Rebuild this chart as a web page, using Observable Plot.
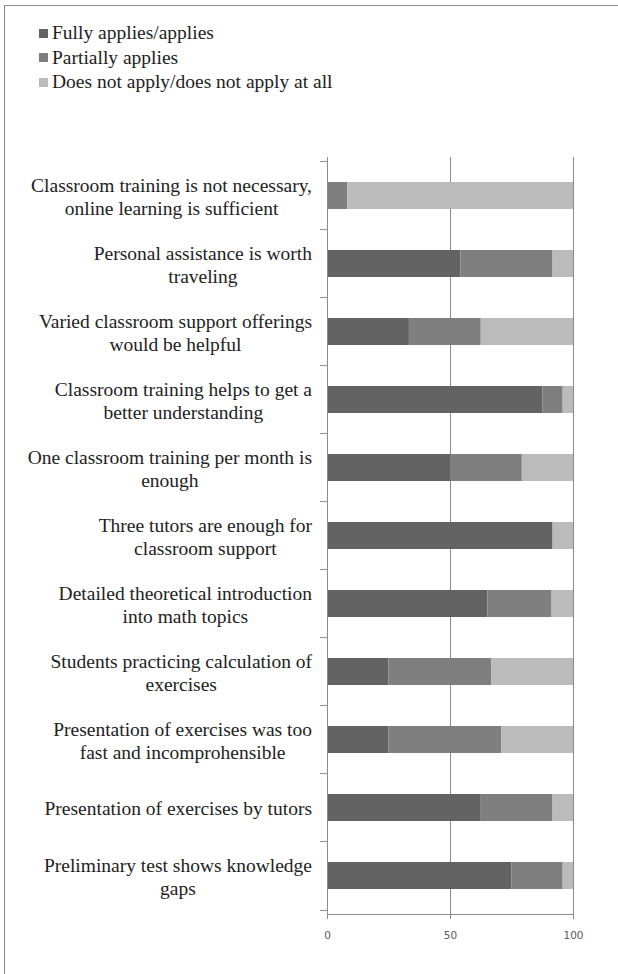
<!DOCTYPE html>
<html><head><meta charset="utf-8">
<script src="https://cdn.jsdelivr.net/npm/d3@7"></script>
<script src="https://cdn.jsdelivr.net/npm/@observablehq/plot@0.6"></script>
<style>
body{margin:0;background:#fff;}
#wrap{position:relative;width:618px;height:974px;overflow:hidden;background:#fff;}
#frame{position:absolute;left:4px;top:5px;width:700px;height:1100px;border-top:1px solid #8a8a8a;border-left:1px solid #8a8a8a;}
#legend{position:absolute;left:39px;top:20.75px;font-family:"Liberation Serif";font-size:19.5px;color:#222;}
.item{display:flex;align-items:center;height:24.5px;white-space:nowrap;}
.sw{width:9px;height:9px;margin-right:4px;flex:none;}
#chart{position:absolute;left:0;top:0;}
</style></head>
<body>
<div id="wrap"><div id="frame"></div><div id="legend"></div><div id="chart"></div></div>
<script>
const categories = [
  "Classroom training is not necessary,\nonline learning is sufficient",
  "Personal assistance is worth\ntraveling",
  "Varied classroom support offerings\nwould be helpful",
  "Classroom training helps to get a\nbetter understanding",
  "One classroom training per month is\nenough",
  "Three tutors are enough for\nclassroom support",
  "Detailed theoretical introduction\ninto math topics",
  "Students practicing calculation of\nexercises",
  "Presentation of exercises was too\nfast and incomprohensible",
  "Presentation of exercises by tutors",
  "Preliminary test shows knowledge\ngaps"
];
const seriesNames = ["Fully applies/applies", "Partially applies", "Does not apply/does not apply at all"];
const fully     = [0,    54.2, 33.3, 87.5, 50,   91.7, 65.2, 25,   25,   62.5, 75];
const partially = [8.3,  37.5, 29.2, 8.3,  29.2, 0,    26.1, 41.7, 45.8, 29.2, 20.8];
const notApply  = [91.7, 8.3,  37.5, 4.2,  20.8, 8.3,  8.7,  33.3, 29.2, 8.3,  4.2];
const seriesColors = ["#636363", "#7f7f7f", "#bbbbbb"];
const xTicks = [0, 50, 100];
const gridTicks = [50, 100];

const seriesValues = [fully, partially, notApply];
const rows = [];
categories.forEach((c, i) => {
  seriesNames.forEach((s, j) => rows.push({category: c, series: s, value: seriesValues[j][i]}));
});

// legend
const legend = document.getElementById("legend");
seriesNames.forEach((s, j) => {
  const it = document.createElement("div"); it.className = "item";
  const sw = document.createElement("span"); sw.className = "sw"; sw.style.background = seriesColors[j];
  const t = document.createElement("span"); t.textContent = s;
  it.appendChild(sw); it.appendChild(t); legend.appendChild(it);
});

const W = 618, H = 974, mT = 157, mB = 60, mL = 327, mR = 45;
const step = (H - mT - mB) / categories.length;
const labelFont = 19.5;
const ctx = document.createElement("canvas").getContext("2d");
ctx.font = `${labelFont}px "Liberation Serif"`;
const maxW = c => Math.max(...c.split("\n").map(l => ctx.measureText(l).width));

const labelMarks = categories.map(c => Plot.text([c], {
  y: d => d, text: d => d, frameAnchor: "left", textAnchor: "middle",
  dx: -(15.5 + maxW(c) / 2), lineHeight: 23 / labelFont,
  fontFamily: "Liberation Serif", fontSize: labelFont, fill: "#222"
}));

const chart = Plot.plot({
  width: W, height: H,
  marginTop: mT, marginBottom: mB, marginLeft: mL, marginRight: mR,
  style: {background: "transparent", overflow: "visible"},
  x: {domain: [0, 100], axis: null, label: null},
  y: {domain: categories, paddingInner: 0.6, paddingOuter: 0.3, axis: null, label: null},
  color: {domain: seriesNames, range: seriesColors},
  marks: [
    Plot.gridX(gridTicks, {stroke: "#8c8c8c", strokeOpacity: 1}),
    Plot.barX(rows, Plot.stackX({y: "category", x: "value", fill: "series", z: "series"})),
    Plot.frame({anchor: "left", stroke: "#8c8c8c"}),
    Plot.frame({anchor: "bottom", stroke: "#8c8c8c"}),
    Plot.axisY(categories, {tickSize: 7, tickFormat: () => "", label: null, dy: -step / 2, stroke: "#8c8c8c"}),
    Plot.axisY([categories[categories.length - 1]], {tickSize: 7, tickFormat: () => "", label: null, dy: step / 2, stroke: "#8c8c8c"}),
    Plot.axisX(xTicks, {anchor: "bottom", tickSize: 5, tickPadding: 12, label: null, stroke: "#8c8c8c",
      fill: "#595959", fontFamily: "DejaVu Sans", fontSize: 10.5}),
    ...labelMarks
  ]
});
document.getElementById("chart").appendChild(chart);
</script>
</body></html>
